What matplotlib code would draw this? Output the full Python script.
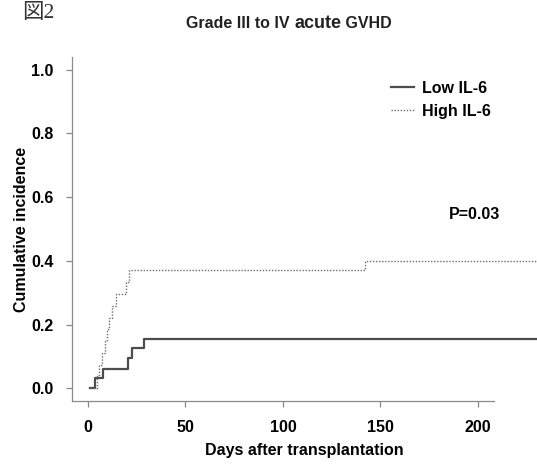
import matplotlib
matplotlib.use("Agg")
import matplotlib.pyplot as plt
from matplotlib.offsetbox import TextArea, HPacker, AnchoredOffsetbox

plt.rcParams["font.family"] = ["Liberation Sans", "DejaVu Sans"]

# step points (days, cumulative incidence)
low_days = [1, 3.6, 7.7, 20.5, 22.8, 28.7, 240]
low_ci = [0, 0.031, 0.062, 0.094, 0.125, 0.156, 0.156]
high_days = [1, 4.5, 5.5, 7, 8.5, 9.5, 11, 12.5, 14.5, 19.5, 21, 142, 240]
high_ci = [0, 0.037, 0.074, 0.111, 0.148, 0.185, 0.222, 0.259, 0.296,
           0.333, 0.370, 0.400, 0.400]
xticks = [0, 50, 100, 150, 200]
yticks = [0.0, 0.2, 0.4, 0.6, 0.8, 1.0]

fig = plt.figure(figsize=(5.37, 4.65), dpi=100)
ax = fig.add_axes([0.1348, 0.1376, 0.8652, 0.7398])

axc = "#8a8a8a"
ax.plot(low_days, low_ci, drawstyle="steps-post", color="#4d4d4d", lw=1.6,
        label="Low IL-6")
ax.plot(high_days, high_ci, drawstyle="steps-post", color="#6e6e6e", lw=1.0,
        linestyle=(0, (1, 1.2)), label="High IL-6")

ax.set_xlim(-8, 230.3)
ax.set_ylim(-0.04, 1.04)
ax.set_xticks(xticks)
ax.set_yticks(yticks)
ax.set_yticklabels(["%.1f" % v for v in yticks])
for s in ["top", "right"]:
    ax.spines[s].set_visible(False)
for s in ["left", "bottom"]:
    ax.spines[s].set_color(axc)
    ax.spines[s].set_linewidth(0.9)
ax.spines["bottom"].set_bounds(-8, 208)
ax.tick_params(direction="out", length=4.5, width=0.9, color=axc,
               labelsize=11.5)
ax.tick_params(axis="x", pad=9)
ax.tick_params(axis="y", pad=9)
for lab in ax.get_xticklabels() + ax.get_yticklabels():
    lab.set_fontweight("bold")

ax.set_xlabel("Days after transplantation", fontsize=11.5, fontweight="bold",
              labelpad=6)
ax.set_ylabel("Cumulative incidence", fontsize=11.5, fontweight="bold")
ax.yaxis.set_label_coords(-0.094, 0.5)

ax.text(198, 0.544, "P=0.03", fontsize=11.5, fontweight="bold",
        ha="center", va="center")

leg = ax.legend(loc="upper left", bbox_to_anchor=(155.5, 0.965),
                bbox_transform=ax.transData, frameon=False, borderpad=0,
                borderaxespad=0, handlelength=1.4, handletextpad=0.55,
                labelspacing=0.5, prop={"size": 11.5, "weight": "bold"})

# title with a larger "acute", as in the source
tp = {"fontsize": 11.5, "fontweight": "bold", "color": "#222222"}
tb = {"fontsize": 13, "fontweight": "bold", "color": "#222222"}
pack = HPacker(children=[TextArea("Grade III to IV ", textprops=tp),
                         TextArea("acute", textprops=tb),
                         TextArea(" GVHD", textprops=tp)],
               align="baseline", pad=0, sep=0)
title = AnchoredOffsetbox(loc="center", child=pack, frameon=False, pad=0,
                          borderpad=0, bbox_to_anchor=(289 / 537, 1 - 23 / 465),
                          bbox_transform=fig.transFigure)
fig.add_artist(title)

fig.text(22 / 537, 1 - 14 / 465, "図2", fontsize=15.5, va="center", ha="left",
         family=["Liberation Serif", "Noto Sans CJK JP"], color="#333333")

fig.savefig("out.png", dpi=100)
